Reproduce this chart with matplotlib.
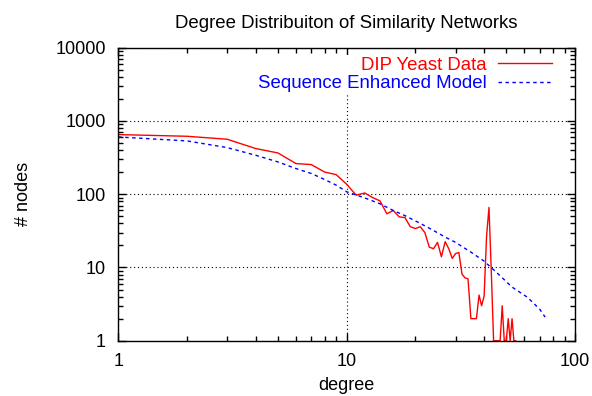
import numpy as np
import matplotlib
matplotlib.use('Agg')
from matplotlib import pyplot as plt
from matplotlib.ticker import LogLocator, FixedFormatter, FixedLocator, NullFormatter

# DIP yeast degree distribution
dip_degree = list(range(1, 56))
dip_nodes = [652, 618, 563, 420, 366, 262, 254, 201, 185, 137,
             97, 104, 90, 81, 54, 60, 49, 48, 36, 34,
             36, 30, 19, 18, 22, 14, 22.5, 18, 13.3, 15.5,
             16, 8.1, 7.2, 7.0, 2, 2, 2, 4.2, 3, 4.1,
             27, 66, 8.7, 1, 1, 1, 1, 3, 1, 1,
             2, 1, 2, 1, 1]

# sequence enhanced model
model_degree = [1, 2, 3, 4, 5, 6, 7, 8, 9, 10, 12, 14, 16, 18, 21, 24, 27, 30,
                35, 40, 46, 53, 62, 70, 74]
model_nodes = [605, 534, 433, 340, 276, 224, 192, 159, 133, 108, 89, 74, 60, 51,
               40, 32, 26, 22, 16.2, 12.2, 8.2, 5.4, 3.9, 2.7, 2.1]

x_ticks = [1, 10, 100]
y_ticks = [1, 10, 100, 1000, 10000]

plt.rcParams['font.family'] = ['Liberation Sans', 'DejaVu Sans']
plt.rcParams['font.size'] = 13

fig = plt.figure(figsize=(5.92, 3.96), dpi=100)
ax = fig.add_axes([0.1998, 0.1396, 0.7715, 0.7399])

ax.plot(dip_degree, dip_nodes, color='red', lw=1.0, label='DIP Yeast Data')
ax.plot(model_degree, model_nodes, color='blue', lw=1.0, linestyle=(0, (2.5, 2.5)),
        label='Sequence Enhanced Model')

ax.set_xscale('log')
ax.set_yscale('log')
ax.set_xlim(1, 100)
ax.set_ylim(1, 10000)

ax.xaxis.set_major_locator(FixedLocator(x_ticks))
ax.xaxis.set_major_formatter(FixedFormatter([str(v) for v in x_ticks]))
ax.yaxis.set_major_locator(FixedLocator(y_ticks))
ax.yaxis.set_major_formatter(FixedFormatter([str(v) for v in y_ticks]))
ax.xaxis.set_minor_locator(LogLocator(base=10, subs=np.arange(2, 10)))
ax.yaxis.set_minor_locator(LogLocator(base=10, subs=np.arange(2, 10)))
ax.xaxis.set_minor_formatter(NullFormatter())
ax.yaxis.set_minor_formatter(NullFormatter())

ax.tick_params(which='both', direction='in', top=True, right=True, width=1.0)
ax.tick_params(which='major', length=6, pad=9)
ax.tick_params(which='minor', length=3.5)
for s in ax.spines.values():
    s.set_linewidth(1.0)

ax.grid(True, which='major', color='black', lw=0.8, linestyle=(0, (1, 2.5)))

ax.set_title('Degree Distribuiton of Similarity Networks', fontsize=13.4, pad=14)
ax.set_xlabel('degree', labelpad=5)
ax.set_ylabel('# nodes', labelpad=17)

leg = ax.legend(loc='upper right', bbox_to_anchor=(0.954, 0.975), markerfirst=False,
                frameon=True, edgecolor='none', facecolor='white', framealpha=1,
                fancybox=False, labelcolor='linecolor', handlelength=2.9,
                handletextpad=0.6, labelspacing=0.08, borderpad=0.1, borderaxespad=0,
                fontsize=13.4)

fig.savefig('out.png', dpi=100)
